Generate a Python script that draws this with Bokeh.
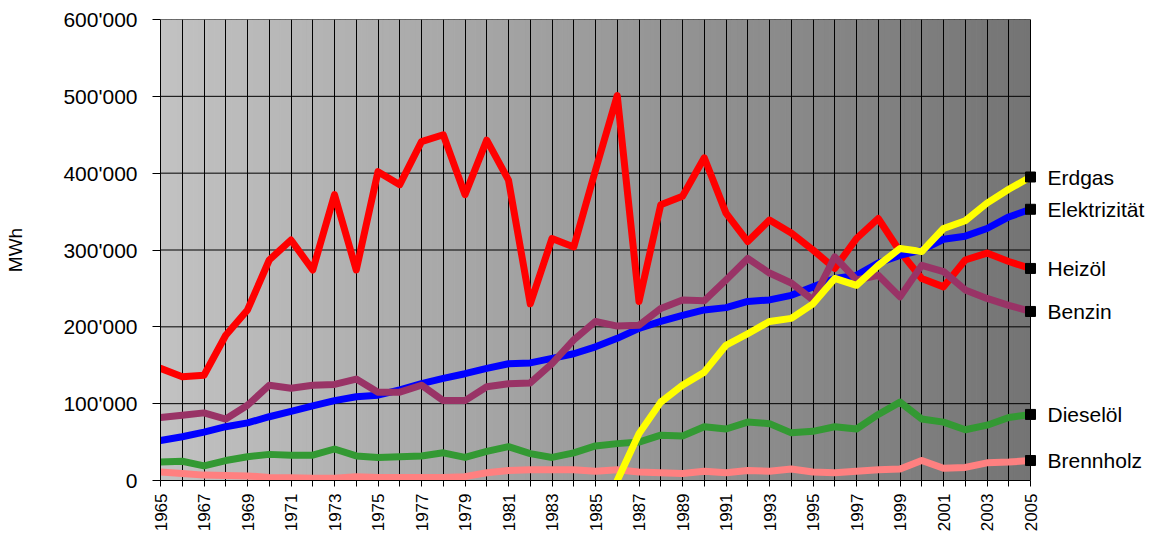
import math
import numpy as np
from bokeh.plotting import figure
from bokeh.models import Range1d, FixedTicker, CustomJSTickFormatter
from bokeh.core.properties import value
from bokeh.embed import file_html
from bokeh.resources import INLINE

# ---------------- data (MWh) ----------------
years = list(range(1965, 2006))
heizoel = [146, 135, 137, 189, 222, 287, 313, 274, 372, 274, 402, 385, 441, 450,
           372, 443, 391, 230, 315, 304, 404, 501, 233, 359, 370, 420, 348,
           311, 339, 322, 300, 276, 315, 341, 298, 263, 252, 287, 296, 285, 276]
elektrizitaet = [52, 57, 63, 70, 75, 83, 90, 97, 104, 109, 111, 118, 126, 133,
                 139, 146, 152, 153, 159, 165, 174, 185, 198, 207, 215, 222, 225,
                 233, 235, 241, 252, 263, 267, 283, 293, 300, 314, 318, 328, 343, 353]
benzin = [82, 85, 88, 80, 98, 124, 120, 124, 125, 132, 115, 115, 124, 104,
          104, 122, 126, 127, 152, 183, 207, 201, 202, 224, 235, 234, 261,
          289, 270, 257, 235, 291, 261, 267, 239, 280, 272, 248, 237, 228, 220]
dieseloel = [24, 25, 19, 26, 31, 34, 33, 33, 41, 32, 30, 31, 32, 36,
             30, 38, 44, 35, 30, 36, 45, 48, 50, 59, 58, 70, 67,
             76, 74, 62, 64, 70, 67, 86, 102, 80, 76, 66, 72, 82, 86]
brennholz = [11, 9, 7, 6.5, 6, 4, 3.5, 3, 3, 5, 4, 4, 4, 4,
             5, 10, 13, 14, 14, 14, 12, 14, 11, 10, 9, 12, 10,
             13, 12, 15, 11, 10, 12, 14, 15, 26, 16, 17, 23, 24, 26]
erdgas_years = list(range(1986, 2006))
erdgas = [0, 61, 102, 124, 141, 176, 191, 207, 211, 230, 263, 254, 280, 302,
          298, 328, 338, 361, 379, 395]

y_ticks = [0, 100000, 200000, 300000, 400000, 500000, 600000]
label_years = list(range(1965, 2006, 2))
minor_years = list(range(1966, 2005, 2))

series = [
    ("Heizöl", years, heizoel, "#FF0000"),
    ("Elektrizität", years, elektrizitaet, "#0000FF"),
    ("Benzin", years, benzin, "#993366"),
    ("Dieselöl", years, dieseloel, "#339933"),
    ("Brennholz", years, brennholz, "#FF8080"),
    ("Erdgas", erdgas_years, erdgas, "#FFFF00"),
]

FONT = "Liberation Sans"
x0, x1 = years[0], years[-1]

W, H = 1151, 536
LEFT, TOP, BOTTOM = 160, 19, 56
PX_PER_YEAR = 21.75

p = figure(width=W, height=H, output_backend="svg", toolbar_location=None,
           x_range=Range1d(x0, x0 + (W - LEFT) / PX_PER_YEAR),
           y_range=Range1d(0, 600000),
           min_border_left=LEFT, min_border_right=0, min_border_top=TOP,
           min_border_bottom=BOTTOM)
p.outline_line_color = None
p.background_fill_color = "white"
p.border_fill_color = "white"

# gradient background of the plot area
n = 160
edges = np.linspace(x0, x1, n + 1)
c0 = np.array([194, 194, 194])
c1 = np.array([116, 116, 116])
cols = []
for i in range(n):
    t = (i + 0.5) / n
    c = (c0 + (c1 - c0) * t).round().astype(int)
    cols.append("#%02x%02x%02x" % tuple(c))
p.quad(left=edges[:-1], right=edges[1:], bottom=0, top=y_ticks[-1],
       fill_color=cols, line_color=cols, line_width=1, level="image")

# axes
xt = FixedTicker(ticks=label_years, minor_ticks=minor_years)
p.xaxis.ticker = xt
p.xgrid.ticker = xt
p.xaxis.bounds = (x0, x1)
p.xaxis.major_label_orientation = math.pi / 2
p.xaxis.major_label_text_font = FONT
p.xaxis.major_label_text_font_size = "17px"
p.xaxis.major_label_text_color = "black"
p.xaxis.major_label_standoff = 7
p.xaxis.major_tick_out = 6
p.xaxis.major_tick_in = 0
p.xaxis.minor_tick_out = 6
p.xaxis.minor_tick_in = 0
p.xaxis.axis_line_color = "black"
p.xaxis.major_tick_line_color = "black"
p.xaxis.minor_tick_line_color = "black"

p.xgrid.grid_line_color = "black"
p.xgrid.grid_line_width = 1
p.xgrid.minor_grid_line_color = "black"
p.xgrid.minor_grid_line_width = 1

yt = FixedTicker(ticks=y_ticks, minor_ticks=[])
p.yaxis.ticker = yt
p.ygrid.grid_line_color = None
p.yaxis.formatter = CustomJSTickFormatter(
    code=r"""return String(tick).replace(/\B(?=(\d{3})+(?!\d))/g, "'");""")
p.yaxis.major_label_text_font = FONT
p.yaxis.major_label_text_font_size = "21px"
p.yaxis.major_label_text_color = "black"
p.yaxis.major_label_standoff = 15
p.yaxis.major_tick_out = 8
p.yaxis.major_tick_in = 0
p.yaxis.minor_tick_out = 0
p.yaxis.minor_tick_line_color = None
p.yaxis.axis_line_color = "black"
p.yaxis.major_tick_line_color = "black"
p.yaxis.axis_label = "MWh"
p.yaxis.axis_label_text_font = FONT
p.yaxis.axis_label_text_font_size = "19px"
p.yaxis.axis_label_text_font_style = "normal"
p.yaxis.axis_label_text_color = "black"
p.yaxis.axis_label_standoff = 34

# horizontal grid lines restricted to the year span
p.segment(x0=[x0] * (len(y_ticks) - 1), x1=[x1] * (len(y_ticks) - 1),
          y0=y_ticks[1:], y1=y_ticks[1:], line_color="black", line_width=1)

# data lines
for name, xs, vals, col in series:
    p.line(xs, [v * 1000 for v in vals], line_color=col, line_width=7,
           line_join="round", line_cap="round")

# end markers and labels
names = [s[0] for s in series]
last_x = [s[1][-1] for s in series]
last_y = [s[2][-1] * 1000 for s in series]
p.scatter(x=last_x, y=last_y, marker="square", size=10, fill_color="black",
          line_color="black")
p.text(x=last_x, y=last_y, text=names, x_offset=17, text_baseline="middle",
       text_align="left", text_font=value(FONT), text_font_size="21px",
       text_color="black")

open("out.html", "w").write(file_html(p, INLINE))
